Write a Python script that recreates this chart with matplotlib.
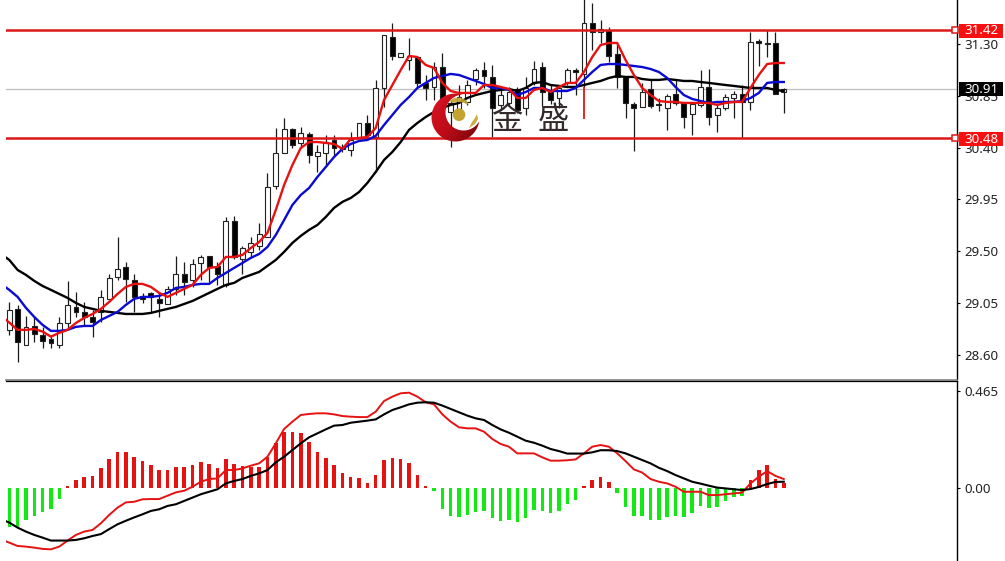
import numpy as np
import matplotlib
matplotlib.use('Agg')
import matplotlib.pyplot as plt
import matplotlib.transforms as mtransforms
from matplotlib.colors import LinearSegmentedColormap
from matplotlib.patches import Rectangle, Circle, PathPatch, Polygon
from matplotlib.path import Path

plt.rcParams['font.family'] = ['Noto Sans', 'DejaVu Sans']

# ── candles ───────────────────────────────────────────────────────────────────
opens = [28.82, 29.00, 28.69, 28.85, 28.77, 28.74, 28.69, 28.88, 29.02, 28.97,
         28.93, 28.97, 29.09, 29.28, 29.36, 29.25, 29.11, 29.14, 29.09, 29.04,
         29.17, 29.30, 29.25, 29.40, 29.46, 29.37, 29.21, 29.76, 29.43, 29.49,
         29.55, 29.62, 30.07, 30.35, 30.56, 30.44, 30.52, 30.33, 30.35, 30.47,
         30.41, 30.38, 30.48, 30.61, 30.49, 30.92, 31.36, 31.19, 31.16, 31.19,
         30.96, 30.93, 31.10, 30.71, 30.73, 30.80, 31.00, 31.07, 31.01, 30.77,
         30.79, 30.91, 30.74, 30.96, 31.10, 30.88, 30.83, 30.96, 31.07, 31.04,
         31.48, 31.40, 31.42, 31.21, 31.01, 30.78, 30.75, 30.91, 30.78, 30.74,
         30.87, 30.79, 30.69, 30.77, 30.93, 30.68, 30.74, 30.83, 30.87, 30.80,
         31.33, 31.31, 31.31, 30.88]
closes = [28.99, 28.71, 28.84, 28.78, 28.72, 28.70, 28.88, 29.03, 28.97, 28.93,
          28.89, 29.10, 29.27, 29.35, 29.26, 29.10, 29.09, 29.10, 29.05, 29.17,
          29.30, 29.23, 29.39, 29.45, 29.36, 29.30, 29.76, 29.45, 29.53, 29.57,
          29.65, 30.06, 30.35, 30.56, 30.42, 30.53, 30.34, 30.36, 30.45, 30.40,
          30.39, 30.47, 30.61, 30.51, 30.92, 31.38, 31.20, 31.22, 31.20, 30.96,
          30.92, 31.10, 30.81, 30.79, 30.84, 30.94, 31.07, 31.02, 30.74, 30.86,
          30.88, 30.73, 30.92, 31.08, 30.88, 30.81, 30.92, 31.07, 31.06, 31.48,
          31.40, 31.43, 31.20, 31.01, 30.79, 30.74, 30.88, 30.76, 30.77, 30.85,
          30.79, 30.67, 30.78, 30.93, 30.67, 30.74, 30.84, 30.87, 30.80, 31.32,
          31.31, 31.30, 30.87, 30.91]
highs = [29.06, 29.03, 28.94, 28.93, 28.84, 28.77, 28.93, 29.24, 29.15, 29.06,
         28.99, 29.16, 29.30, 29.62, 29.41, 29.30, 29.14, 29.15, 29.15, 29.20,
         29.46, 29.41, 29.43, 29.47, 29.46, 29.41, 29.80, 29.81, 29.55, 29.62,
         29.75, 30.18, 30.57, 30.66, 30.57, 30.58, 30.54, 30.42, 30.51, 30.51,
         30.43, 30.54, 30.61, 30.68, 30.99, 31.38, 31.48, 31.22, 31.35, 31.19,
         31.03, 31.14, 31.22, 30.81, 30.94, 30.99, 31.09, 31.14, 31.12, 30.90,
         30.93, 30.93, 31.01, 31.15, 31.14, 30.94, 30.94, 31.09, 31.09, 31.72,
         31.66, 31.51, 31.45, 31.31, 31.01, 30.80, 30.96, 30.99, 30.83, 30.87,
         31.00, 30.80, 30.80, 31.07, 31.08, 30.79, 30.87, 30.89, 30.94, 31.40,
         31.34, 31.42, 31.40, 30.92]
lows = [28.77, 28.54, 28.69, 28.71, 28.66, 28.66, 28.66, 28.83, 28.93, 28.86,
        28.76, 28.89, 29.09, 29.25, 29.06, 28.97, 29.05, 28.97, 28.93, 29.04,
        29.12, 29.12, 29.19, 29.25, 29.23, 29.21, 29.19, 29.43, 29.30, 29.44,
        29.51, 29.62, 30.04, 30.35, 30.40, 30.40, 30.27, 30.19, 30.25, 30.34,
        30.36, 30.33, 30.48, 30.49, 30.19, 30.75, 31.16, 31.19, 31.07, 30.93,
        30.81, 30.81, 30.66, 30.41, 30.64, 30.77, 30.94, 30.92, 30.49, 30.73,
        30.77, 30.70, 30.68, 30.94, 30.76, 30.78, 30.74, 30.94, 30.86, 30.93,
        31.25, 31.31, 31.14, 30.92, 30.66, 30.37, 30.75, 30.74, 30.72, 30.55,
        30.77, 30.57, 30.51, 30.75, 30.60, 30.54, 30.73, 30.66, 30.48, 30.73,
        31.11, 31.19, 30.87, 30.70]

# ── moving averages (first value belongs to a bar just off the left edge) ─────
ma_fast = [28.939, 28.881, 28.818, 28.818, 28.826, 28.803, 28.759, 28.792, 28.818, 28.878,
           28.922, 28.956, 29.000, 29.061, 29.130, 29.191, 29.217, 29.217, 29.191, 29.139,
           29.104, 29.139, 29.174, 29.208, 29.295, 29.356, 29.364, 29.451, 29.451, 29.469,
           29.529, 29.581, 29.660, 29.859, 30.076, 30.250, 30.397, 30.449, 30.449, 30.441,
           30.432, 30.389, 30.475, 30.484, 30.493, 30.571, 30.814, 30.944, 31.074, 31.196,
           31.187, 31.118, 31.092, 30.962, 30.892, 30.875, 30.875, 30.875, 30.944, 30.944,
           30.927, 30.909, 30.831, 30.831, 30.901, 30.918, 30.883, 30.927, 30.962, 30.962,
           31.057, 31.187, 31.291, 31.309, 31.309, 31.161, 31.031, 30.918, 30.857, 30.805,
           30.797, 30.797, 30.788, 30.788, 30.788, 30.788, 30.771, 30.788, 30.797, 30.797,
           30.918, 31.031, 31.126, 31.135, 31.135]
ma_mid = [29.217, 29.165, 29.104, 29.009, 28.930, 28.861, 28.809, 28.809, 28.818, 28.844,
          28.852, 28.852, 28.904, 28.939, 28.974, 29.035, 29.087, 29.104, 29.104, 29.113,
          29.139, 29.182, 29.191, 29.208, 29.217, 29.217, 29.269, 29.312, 29.356, 29.399,
          29.443, 29.477, 29.538, 29.642, 29.772, 29.903, 29.989, 30.050, 30.146, 30.232,
          30.319, 30.389, 30.432, 30.458, 30.467, 30.502, 30.597, 30.684, 30.771, 30.840,
          30.918, 30.962, 31.005, 31.022, 31.040, 31.031, 31.005, 30.979, 30.953, 30.918,
          30.918, 30.901, 30.857, 30.883, 30.918, 30.918, 30.892, 30.892, 30.892, 30.918,
          30.988, 31.057, 31.118, 31.126, 31.126, 31.118, 31.109, 31.100, 31.083, 31.057,
          31.005, 30.927, 30.857, 30.823, 30.805, 30.788, 30.797, 30.797, 30.797, 30.805,
          30.831, 30.875, 30.962, 30.970, 30.970]
ma_slow = [29.477, 29.425, 29.338, 29.295, 29.243, 29.199, 29.165, 29.130, 29.095, 29.052,
           29.017, 29.000, 28.983, 28.974, 28.965, 28.956, 28.956, 28.956, 28.965, 28.983,
           29.000, 29.017, 29.043, 29.069, 29.104, 29.139, 29.174, 29.208, 29.226, 29.269,
           29.295, 29.321, 29.373, 29.425, 29.495, 29.573, 29.634, 29.686, 29.729, 29.798,
           29.877, 29.929, 29.963, 30.015, 30.094, 30.189, 30.293, 30.363, 30.449, 30.554,
           30.614, 30.666, 30.710, 30.745, 30.771, 30.788, 30.831, 30.857, 30.875, 30.892,
           30.901, 30.909, 30.892, 30.918, 30.962, 30.970, 30.944, 30.936, 30.927, 30.927,
           30.944, 30.962, 30.979, 31.005, 31.022, 31.014, 31.014, 30.996, 30.988, 30.988,
           30.996, 30.988, 30.979, 30.979, 30.970, 30.962, 30.953, 30.944, 30.936, 30.927,
           30.918, 30.918, 30.918, 30.901, 30.892]

# ── macd panel ────────────────────────────────────────────────────────────────
macd_hist = [-0.185, -0.185, -0.153, -0.133, -0.113, -0.101, -0.054, 0.011, 0.038, 0.054,
             0.059, 0.094, 0.139, 0.171, 0.174, 0.150, 0.129, 0.110, 0.085, 0.085,
             0.099, 0.101, 0.110, 0.123, 0.113, 0.094, 0.139, 0.113, 0.105, 0.102,
             0.102, 0.150, 0.214, 0.267, 0.270, 0.262, 0.219, 0.174, 0.142, 0.110,
             0.070, 0.054, 0.050, 0.026, 0.062, 0.134, 0.145, 0.139, 0.118, 0.062,
             0.010, -0.013, -0.101, -0.133, -0.139, -0.129, -0.113, -0.110, -0.145, -0.158,
             -0.153, -0.165, -0.142, -0.105, -0.110, -0.118, -0.110, -0.078, -0.058, 0.010,
             0.038, 0.054, 0.030, -0.022, -0.089, -0.133, -0.133, -0.153, -0.153, -0.137,
             -0.133, -0.137, -0.121, -0.085, -0.097, -0.089, -0.062, -0.045, -0.037, 0.038,
             0.086, 0.110, 0.043, 0.022]
macd_main = [-0.246, -0.262, -0.278, -0.281, -0.286, -0.292, -0.294, -0.281, -0.252, -0.225,
             -0.209, -0.201, -0.169, -0.129, -0.094, -0.069, -0.066, -0.054, -0.053, -0.053,
             -0.037, -0.021, -0.013, 0.006, 0.030, 0.043, 0.046, 0.086, 0.086, 0.094,
             0.107, 0.118, 0.150, 0.214, 0.283, 0.318, 0.350, 0.355, 0.358, 0.358,
             0.353, 0.345, 0.342, 0.340, 0.340, 0.366, 0.417, 0.438, 0.454, 0.457,
             0.438, 0.411, 0.401, 0.353, 0.318, 0.291, 0.286, 0.286, 0.270, 0.235,
             0.211, 0.198, 0.166, 0.166, 0.166, 0.147, 0.131, 0.131, 0.133, 0.137,
             0.166, 0.198, 0.206, 0.198, 0.166, 0.129, 0.089, 0.074, 0.043, 0.030,
             0.022, 0.006, -0.018, -0.018, -0.018, -0.034, -0.034, -0.030, -0.026, -0.022,
             0.022, 0.054, 0.081, 0.058, 0.043]
macd_signal = [-0.149, -0.166, -0.190, -0.209, -0.225, -0.238, -0.252, -0.252, -0.252, -0.249,
               -0.241, -0.230, -0.221, -0.197, -0.174, -0.157, -0.141, -0.126, -0.110, -0.102,
               -0.086, -0.078, -0.062, -0.046, -0.030, -0.018, -0.006, 0.022, 0.034, 0.043,
               0.058, 0.070, 0.086, 0.123, 0.150, 0.182, 0.214, 0.243, 0.262, 0.281,
               0.299, 0.302, 0.313, 0.318, 0.323, 0.329, 0.353, 0.374, 0.387, 0.401,
               0.409, 0.411, 0.409, 0.395, 0.379, 0.363, 0.347, 0.334, 0.326, 0.302,
               0.281, 0.265, 0.246, 0.227, 0.217, 0.203, 0.187, 0.177, 0.165, 0.165,
               0.165, 0.171, 0.181, 0.181, 0.177, 0.166, 0.150, 0.134, 0.118, 0.097,
               0.081, 0.062, 0.046, 0.030, 0.021, 0.011, 0.002, -0.002, -0.006, -0.010,
               -0.005, 0.005, 0.019, 0.029, 0.030]

price_ticks = [31.30, 30.85, 30.40, 29.95, 29.50, 29.05, 28.60]
macd_ticks = [0.465, 0.00]
resistance, support, last_price = 31.42, 30.48, 30.91
spike_bar, spike_top, spike_low = 69, 30.93, 30.65

# ── figure, axes placed in pixels ─────────────────────────────────────────────
W, H = 1005, 561
LEFT, RIGHT = 6, 957
RED, GREEN, BLUE = '#e61212', '#12e812', '#0a0ad2'
TXT = '#222222'

fig = plt.figure(figsize=(W / 100, H / 100), dpi=100, facecolor='white')
ax = fig.add_axes([LEFT / W, 1 - 379.5 / H, (RIGHT - LEFT) / W, 379.5 / H])
ax2 = fig.add_axes([LEFT / W, 0, (RIGHT - LEFT) / W, 1 - 381 / H])

bars = np.arange(len(opens))
line_x = np.arange(-1, len(opens))
xlim = (-0.396, 113.8)

ax.set_xlim(*xlim)
ax.set_ylim(28.387, 31.682)
ax2.set_xlim(*xlim)
ax2.set_ylim(-0.350, 0.513)

for a, ticks, labels in [(ax, price_ticks, ['%.2f' % t for t in price_ticks]),
                         (ax2, macd_ticks, ['0.465', '0.00'])]:
    a.set_xticks([])
    a.yaxis.tick_right()
    a.set_yticks(ticks)
    a.set_yticklabels(labels, fontsize=9.6, color=TXT)
    a.tick_params(axis='y', length=2.4, width=0.8, pad=3, color='black')
    a.spines['left'].set_visible(False)
    a.spines['top'].set_visible(False)
    a.spines['right'].set_linewidth(1.0)
ax.spines['bottom'].set_color('#808080')
ax.spines['bottom'].set_linewidth(1.2)
ax2.spines['bottom'].set_visible(False)
ax2.spines['top'].set_visible(True)
ax2.spines['top'].set_linewidth(0.9)

# ── candles ───────────────────────────────────────────────────────────────────
o, c = np.array(opens), np.array(closes)
ax.vlines(bars, lows, highs, color='#1a1a1a', lw=0.9, zorder=2)
ax.bar(bars, np.abs(c - o), bottom=np.minimum(o, c), width=0.58,
       color=['white' if up else 'black' for up in c >= o],
       edgecolor='#222222', linewidth=0.8, zorder=3)

# ── level lines and moving averages ───────────────────────────────────────────
ax.axhline(last_price, color='#bdbdbd', lw=0.9, zorder=1)
for level in (resistance, support):
    ax.axhline(level, color='#dc1818', lw=1.8, zorder=4)
ax.vlines(spike_bar, spike_low, spike_top, color=RED, lw=1.3, zorder=4)
ax.plot(line_x, ma_slow, color='black', lw=1.7, zorder=5)
ax.plot(line_x, ma_mid, color=BLUE, lw=1.7, zorder=6)
ax.plot(line_x, ma_fast, color=RED, lw=1.7, zorder=7)

# price tags over the scale
tag_tr = mtransforms.blended_transform_factory(fig.transFigure, ax.transData)
tag_h = 14 / 115.2


def price_tag(price, face):
    ax.add_patch(Rectangle((959 / W, price - tag_h / 2 - 0.005), 44 / W, tag_h,
                           transform=tag_tr, facecolor=face, edgecolor='none',
                           clip_on=False, zorder=10))
    ax.text(981 / W, price - 0.005, '%.2f' % price, transform=tag_tr, ha='center',
            va='center', fontsize=9.6, color='white', clip_on=False, zorder=11)


price_tag(resistance, '#f81010')
price_tag(support, '#f81010')
price_tag(last_price, 'black')
for level in (resistance, support):
    ax.plot([954.5 / W], [level], transform=tag_tr, marker='s', ms=3.8, mec='#dc1818',
            mfc='white', mew=1.1, clip_on=False, zorder=9)

# ── macd panel ────────────────────────────────────────────────────────────────
hist = np.array(macd_hist)
ax2.bar(bars, hist, width=0.42, color=[RED if v > 0 else GREEN for v in hist],
        linewidth=0, zorder=2)
ax2.plot(line_x, macd_main, color=RED, lw=1.4, zorder=3)
ax2.plot(line_x, macd_signal, color='black', lw=1.5, zorder=4)

# ── watermark (pixel coordinates) ─────────────────────────────────────────────
ov = fig.add_axes([0, 0, 1, 1], zorder=20)
ov.set_xlim(0, W)
ov.set_ylim(H, 0)
ov.axis('off')
ov.patch.set_alpha(0)

cx, cy, r = 455.5, 117.5, 24.0
ix, iy, ir = 463.5, 112.5, 18.0
# points where the inner circle leaves the outer one
d = np.hypot(ix - cx, iy - cy)
base = np.arctan2(iy - cy, ix - cx)
spread = np.arccos((d ** 2 + r ** 2 - ir ** 2) / (2 * d * r))
outer_t = np.linspace(base + spread, base + 2 * np.pi - spread, 80)
p1 = (cx + r * np.cos(outer_t[0]), cy + r * np.sin(outer_t[0]))
p2 = (cx + r * np.cos(outer_t[-1]), cy + r * np.sin(outer_t[-1]))
a1 = np.arctan2(p2[1] - iy, p2[0] - ix)
a2 = np.arctan2(p1[1] - iy, p1[0] - ix)
if a2 > a1:
    a2 -= 2 * np.pi
inner_t = np.linspace(a1, a2, 80)
pts = np.vstack([np.c_[cx + r * np.cos(outer_t), cy + r * np.sin(outer_t)],
                 np.c_[ix + ir * np.cos(inner_t), iy + ir * np.sin(inner_t)]])
crescent = PathPatch(Path(pts, closed=False), facecolor='none', edgecolor='none')
ov.add_patch(crescent)
logo_cmap = LinearSegmentedColormap.from_list('logo', ['#e01424', '#bc0c18', '#700408'])
grad_x, grad_y = np.meshgrid(np.linspace(0, 1, 60), np.linspace(0, 1, 60))
im = ov.imshow(0.6 * grad_x + 0.4 * grad_y, extent=(430, 481, 142, 92), cmap=logo_cmap,
               aspect='auto', zorder=2)
im.set_clip_path(crescent)
ov.set_xlim(0, W)
ov.set_ylim(H, 0)

GOLD = '#c4a32e'
ov.add_patch(Circle((459, 114.7), 6.3, facecolor=GOLD, edgecolor='none', zorder=3))
ov.add_patch(Polygon([(450, 101), (454, 98), (460, 97.5), (466, 100), (469, 105),
                      (463, 102.5), (457, 102), (452, 103)],
                     facecolor=GOLD, edgecolor='none', alpha=0.9, zorder=3))
ov.add_patch(Polygon([(477, 114), (478, 119), (475, 124), (469, 128), (472, 122),
                      (475, 118)],
                     facecolor=GOLD, edgecolor='none', alpha=0.9, zorder=3))

for glyph, gx in [('金', 507), ('盛', 553)]:
    ov.text(gx, 120, glyph, fontsize=22.5, ha='center', va='center', color='#33282a',
            family=['Noto Sans CJK SC', 'DejaVu Sans'], zorder=4)

fig.savefig('out.png', dpi=100, facecolor='white')
